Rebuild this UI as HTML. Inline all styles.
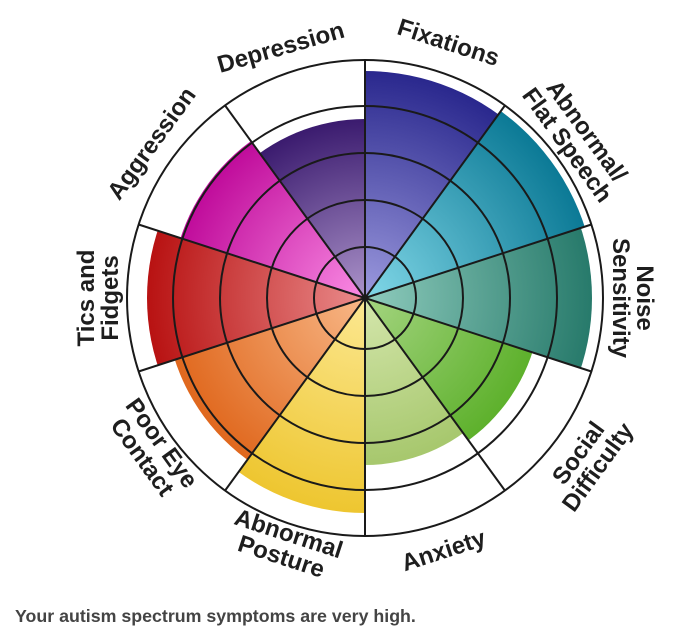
<!DOCTYPE html>
<html><head><meta charset="utf-8"><style>
html,body{margin:0;padding:0;background:#fff;width:699px;height:643px;overflow:hidden}
svg{position:absolute;left:0;top:0}
.cap{position:absolute;left:15px;top:606px;font:bold 17.8px "Liberation Sans",sans-serif;color:#444;white-space:nowrap}
.l{font-family:"Liberation Sans",sans-serif;font-weight:bold;font-size:24px;fill:#1e1e1e;text-anchor:middle}
</style></head><body>
<svg width="699" height="643" viewBox="0 0 699 643">
<defs>
<radialGradient id="g0" gradientUnits="userSpaceOnUse" cx="365" cy="298" r="230"><stop offset="0" stop-color="#9c9ade"/><stop offset="1" stop-color="#28268c"/></radialGradient>
<radialGradient id="g1" gradientUnits="userSpaceOnUse" cx="365" cy="298" r="230"><stop offset="0" stop-color="#82d8e8"/><stop offset="1" stop-color="#0c7a96"/></radialGradient>
<radialGradient id="g2" gradientUnits="userSpaceOnUse" cx="365" cy="298" r="230"><stop offset="0" stop-color="#8fccbd"/><stop offset="1" stop-color="#26796a"/></radialGradient>
<radialGradient id="g3" gradientUnits="userSpaceOnUse" cx="365" cy="298" r="180"><stop offset="0" stop-color="#a4d480"/><stop offset="1" stop-color="#5cb02a"/></radialGradient>
<radialGradient id="g4" gradientUnits="userSpaceOnUse" cx="365" cy="298" r="170"><stop offset="0" stop-color="#d4e6ac"/><stop offset="1" stop-color="#a6c76c"/></radialGradient>
<radialGradient id="g5" gradientUnits="userSpaceOnUse" cx="365" cy="298" r="215"><stop offset="0" stop-color="#fce892"/><stop offset="1" stop-color="#eec630"/></radialGradient>
<radialGradient id="g6" gradientUnits="userSpaceOnUse" cx="365" cy="298" r="200"><stop offset="0" stop-color="#f8b888"/><stop offset="1" stop-color="#e0681e"/></radialGradient>
<radialGradient id="g7" gradientUnits="userSpaceOnUse" cx="365" cy="298" r="218"><stop offset="0" stop-color="#ea8c8c"/><stop offset="1" stop-color="#b81212"/></radialGradient>
<radialGradient id="g8" gradientUnits="userSpaceOnUse" cx="365" cy="298" r="195"><stop offset="0" stop-color="#fa8ce4"/><stop offset="1" stop-color="#bf0a9a"/></radialGradient>
<radialGradient id="g9" gradientUnits="userSpaceOnUse" cx="365" cy="298" r="180"><stop offset="0" stop-color="#ac94ca"/><stop offset="1" stop-color="#3a1a6e"/></radialGradient>
<clipPath id="c0"><polygon points="365,298 365,-2 541.3,55.3"/></clipPath>
<clipPath id="c1"><polygon points="365,298 541.3,55.3 650.3,205.3"/></clipPath>
<clipPath id="c2"><polygon points="365,298 650.3,205.3 650.3,390.7"/></clipPath>
<clipPath id="c3"><polygon points="365,298 650.3,390.7 541.3,540.7"/></clipPath>
<clipPath id="c4"><polygon points="365,298 541.3,540.7 365,598"/></clipPath>
<clipPath id="c5"><polygon points="365,298 365,598 188.7,540.7"/></clipPath>
<clipPath id="c6"><polygon points="365,298 188.7,540.7 79.7,390.7"/></clipPath>
<clipPath id="c7"><polygon points="365,298 79.7,390.7 79.7,205.3"/></clipPath>
<clipPath id="c8"><polygon points="365,298 79.7,205.3 188.7,55.3"/></clipPath>
<clipPath id="c9"><polygon points="365,298 188.7,55.3 365,-2"/></clipPath>
</defs>
<g>
<circle cx="365" cy="298" r="227" fill="url(#g0)" clip-path="url(#c0)"/>
<circle cx="365" cy="298" r="231" fill="url(#g1)" clip-path="url(#c1)"/>
<circle cx="365" cy="298" r="227" fill="url(#g2)" clip-path="url(#c2)"/>
<circle cx="365" cy="298" r="176" fill="url(#g3)" clip-path="url(#c3)"/>
<circle cx="365" cy="298" r="167" fill="url(#g4)" clip-path="url(#c4)"/>
<circle cx="365" cy="298" r="215" fill="url(#g5)" clip-path="url(#c5)"/>
<circle cx="365" cy="298" r="200" fill="url(#g6)" clip-path="url(#c6)"/>
<circle cx="365" cy="298" r="218" fill="url(#g7)" clip-path="url(#c7)"/>
<circle cx="365" cy="298" r="194" fill="url(#g8)" clip-path="url(#c8)"/>
<circle cx="365" cy="298" r="179" fill="url(#g9)" clip-path="url(#c9)"/>
</g>
<g fill="none" stroke="#1a1a1a" stroke-width="2">
<circle cx="365" cy="298" r="51"/>
<circle cx="365" cy="298" r="98"/>
<circle cx="365" cy="298" r="145"/>
<circle cx="365" cy="298" r="192"/>
<circle cx="365" cy="298" r="238"/>
<path d="M365 298L365 60M365 298L504.9 105.5M365 298L591.4 224.5M365 298L591.4 371.5M365 298L504.9 490.5M365 298L365 536M365 298L225.1 490.5M365 298L138.6 371.5M365 298L138.6 224.5M365 298L225.1 105.5"/>
</g>
<circle cx="365" cy="298" r="3" fill="#1a1a1a"/>
<g class="l">
<text transform="translate(446,50) rotate(18)">Fixations</text>
<text transform="translate(283,55) rotate(-16)">Depression</text>
<text transform="translate(158,148) rotate(-54)">Aggression</text>
<text transform="translate(577,138) rotate(54)"><tspan x="0" y="-4">Abnormal/</tspan><tspan x="0" y="20">Flat Speech</tspan></text>
<text transform="translate(98,298) rotate(-90)"><tspan x="0" y="-4">Tics and</tspan><tspan x="0" y="20">Fidgets</tspan></text>
<text transform="translate(633,298) rotate(90)"><tspan x="0" y="-4">Noise</tspan><tspan x="0" y="20">Sensitivity</tspan></text>
<text transform="translate(588,460) rotate(-54)"><tspan x="0" y="-4">Social</tspan><tspan x="0" y="20">Difficulty</tspan></text>
<text transform="translate(446,558) rotate(-18)">Anxiety</text>
<text transform="translate(285,545) rotate(18)"><tspan x="0" y="-4">Abnormal</tspan><tspan x="0" y="20">Posture</tspan></text>
<text transform="translate(152,450) rotate(54)"><tspan x="0" y="-4">Poor Eye</tspan><tspan x="0" y="20">Contact</tspan></text>
</g>
</svg>
<div class="cap">Your autism spectrum symptoms are very high.</div>
</body></html>
